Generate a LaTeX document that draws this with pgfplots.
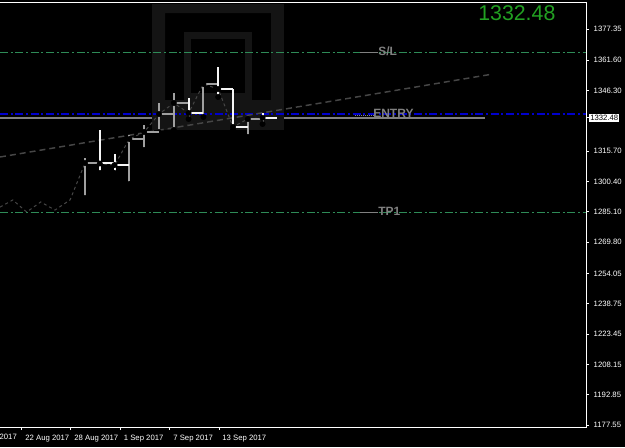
\documentclass[border=0pt]{standalone}
\usepackage{pgfplots}
\pgfplotsset{compat=1.18}
\usepackage{pgfplotstable}
\usepackage{fontspec}
\setmainfont{Liberation Sans}

\definecolor{bargray}{RGB}{160,160,160}
\definecolor{barwhite}{RGB}{245,245,245}
\definecolor{lvlgreen}{RGB}{46,139,87}
\definecolor{lvlblue}{RGB}{0,0,205}
\definecolor{pricegreen}{RGB}{34,160,34}
\definecolor{wmark}{RGB}{20,20,20}
\definecolor{lblgray}{RGB}{128,128,128}
\definecolor{dashgray}{RGB}{70,70,70}

% bars: x = bar index, high, low, close
\pgfplotstableread{
x high low close
0 1312.26 1292.08 1309.74
3 1323.87 1299.15 1321.85
4 1328.91 1316.30 1325.38
5 1340.01 1325.38 1334.46
6 1345.06 1326.39 1340.01
8 1350.10 1332.95 1349.60
11 1332.45 1322.86 1331.94
}\upbars

\pgfplotstableread{
x high low close
1 1326.39 1304.70 1309.50
2 1314.28 1304.70 1308.73
7 1342.54 1331.94 1334.97
9 1358.18 1343.04 1347.08
10 1347.08 1326.39 1327.91
12 1334.97 1329.42 1332.48
}\downbars

\begin{document}
\begin{tikzpicture}[x=1pt,y=1pt]
\fill[black] (0,-15) rectangle (468.75,320.25);
\begin{axis}[
  at={(0,0)}, anchor=south west,
  scale only axis, width=439.5pt, height=318pt,
  xmin=-5.743, xmax=33.851, ymin=1176.55, ymax=1390.47,
  clip mode=individual,
  axis line style={draw=none},
  axis background/.style={fill=black},
  tick align=outside,
  major tick length=2.25pt,
  every tick/.style={white, line width=0.75pt},
  ytick pos=right, yticklabel pos=right,
  xtick pos=bottom,
  ytick={1177.55,1192.85,1208.15,1223.45,1238.75,1254.05,1269.80,1285.10,1300.40,1315.70,1346.30,1361.60,1377.35},
  yticklabels={1177.55,1192.85,1208.15,1223.45,1238.75,1254.05,1269.80,1285.10,1300.40,1315.70,1346.30,1361.60,1377.35},
  xtick={-4.257,-0.946,2.399,5.743,9.054},
  xticklabels={22 Aug 2017,28 Aug 2017,1 Sep 2017,7 Sep 2017,13 Sep 2017},
  tick label style={white, font=\fontsize{5.8}{6}\selectfont},
  xticklabel style={anchor=north west, xshift=-1pt},
  extra y ticks={1332.48},
  extra y tick labels={1332.48},
  extra y tick style={yticklabel style={fill=white, text=black, inner sep=0.8pt}},
]
% current price line (behind the watermark)
\addplot[lblgray, line width=1.1pt] coordinates {(-5.743,1332.48) (27.03,1332.48)};

% watermark
\fill[wmark, even odd rule]
  (rel axis cs:0.2594,0.7005) rectangle (rel axis cs:0.4846,0.9976)
  (rel axis cs:0.2816,0.7712) rectangle (rel axis cs:0.4625,0.9764);
\fill[wmark, even odd rule]
  (rel axis cs:0.3140,0.7712) rectangle (rel axis cs:0.4300,0.9316)
  (rel axis cs:0.3259,0.7877) rectangle (rel axis cs:0.4181,0.9151);

% levels
\addplot[lvlgreen, line width=0.9pt, dash pattern=on 6pt off 2pt on 1.5pt off 2pt] coordinates {(-5.743,1365.3) (33.851,1365.3)};
\addplot[lvlblue, line width=1.5pt, dash pattern=on 6pt off 2pt on 1.5pt off 2pt] coordinates {(-5.743,1334.6) (33.851,1334.6)};
\addplot[lvlgreen, line width=0.9pt, dash pattern=on 6pt off 2pt on 1.5pt off 2pt] coordinates {(-5.743,1284.8) (33.851,1284.8)};

% close line
\addplot[dashgray, line width=0.75pt, dash pattern=on 2.25pt off 2.25pt] coordinates {
(-5.74,1287.5) (-4.88,1291.1) (-3.94,1285.0) (-2.99,1290.1) (-2.03,1286.0) (-1.01,1291.1)
(0,1309.74) (1,1309.50) (2,1308.73) (3,1321.85) (4,1325.38) (5,1334.46) (6,1340.01)
(7,1334.97) (8,1349.60) (9,1347.08) (10,1327.91) (11,1331.94) (12,1332.48)};

% trend line
\addplot[dashgray, line width=1.1pt, dash pattern=on 4.5pt off 3pt] coordinates {(-5.743,1312.77) (27.57,1354.65)};

% bars
\addplot[only marks, mark=none, error bars/.cd, y dir=plus, y explicit, error mark=none,
  error bar style={draw=bargray, line width=1.5pt}]
  table[x=x, y=low, y error expr=\thisrow{high}-\thisrow{low}] {\upbars};
\addplot[only marks, mark=none, error bars/.cd, x dir=plus, x fixed=1, error mark=none,
  error bar style={draw=bargray, line width=1.5pt}]
  table[x=x, y=close] {\upbars};
\addplot[only marks, mark=none, error bars/.cd, y dir=plus, y explicit, error mark=none,
  error bar style={draw=barwhite, line width=1.5pt}]
  table[x=x, y=low, y error expr=\thisrow{high}-\thisrow{low}] {\downbars};
\addplot[only marks, mark=none, error bars/.cd, x dir=plus, x fixed=1, error mark=none,
  error bar style={draw=barwhite, line width=1.5pt}]
  table[x=x, y=close] {\downbars};

% level labels
\draw[lblgray, line width=0.6pt] (axis cs:18.58,1365.3) -- (axis cs:19.80,1365.3);
\node[anchor=west, lblgray, font=\bfseries\fontsize{9}{9}\selectfont, inner sep=0pt, yshift=1pt] at (axis cs:19.80,1365.3) {S/L};
\draw[lblgray, line width=0.6pt, dash pattern=on 0.75pt off 0.75pt] (axis cs:18.24,1334.0) -- (axis cs:19.46,1334.0);
\node[anchor=west, lblgray, font=\bfseries\fontsize{9}{9}\selectfont, inner sep=0pt, yshift=0.5pt] at (axis cs:19.46,1334.6) {ENTRY};
\draw[lblgray, line width=0.6pt] (axis cs:18.58,1284.8) -- (axis cs:19.80,1284.8);
\node[anchor=west, lblgray, font=\bfseries\fontsize{9}{9}\selectfont, inner sep=0pt, yshift=1pt] at (axis cs:19.80,1284.8) {TP1};

% current price
\node[pricegreen, font=\fontsize{16}{16}\selectfont] at (rel axis cs:0.882,0.975) {1332.48};

% frame
\draw[white, line width=0.75pt] (rel axis cs:0,0) -- (rel axis cs:1,0) -- (rel axis cs:1,1) -- (rel axis cs:0,1);
\node[white, anchor=north west, font=\fontsize{5.8}{6}\selectfont, inner sep=0pt] at (rel axis cs:-0.0466,0) [yshift=-5pt] {16 Aug 2017};
\end{axis}
\pgfresetboundingbox
\useasboundingbox (0,-15) rectangle (468.75,320.25);
\end{tikzpicture}
\end{document}
